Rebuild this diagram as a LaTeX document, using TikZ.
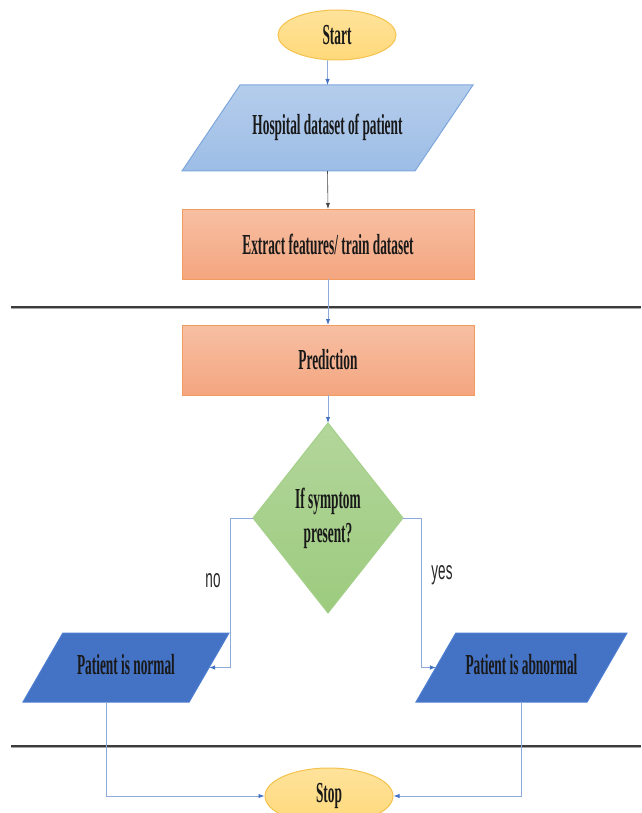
\documentclass[tikz,border=0pt]{standalone}
\usepackage{fontspec}
\newfontfamily\condserif[FakeStretch=0.46]{Liberation Serif}
\newfontfamily\condsans[FakeStretch=0.52]{Liberation Sans}
\usetikzlibrary{shapes.geometric,arrows.meta,calc}
\definecolor{termfill}{HTML}{FFD97A}
\definecolor{termtop}{HTML}{FFE39B}
\definecolor{termdraw}{HTML}{F5C24E}
\definecolor{iotop}{HTML}{B5CDEC}
\definecolor{iobot}{HTML}{9DBDE6}
\definecolor{iodraw}{HTML}{7EA7DB}
\definecolor{proctop}{HTML}{F7BFA3}
\definecolor{procbot}{HTML}{F4A680}
\definecolor{procdraw}{HTML}{F39A5E}
\definecolor{dectop}{HTML}{B3D69B}
\definecolor{decbot}{HTML}{9CCB7E}
\definecolor{decdraw}{HTML}{A5D08A}
\definecolor{outfill}{HTML}{4472C4}
\definecolor{outdraw}{HTML}{4F7FD2}
\definecolor{connblue}{HTML}{8EAADB}
\definecolor{tipblue}{HTML}{4472C4}
\definecolor{sepline}{HTML}{3C3C3C}
\tikzset{
  x=1pt, y=-1pt,
  lbl/.style={font=\condserif\bfseries\fontsize{29}{34}\selectfont, text=black!90},
  term/.style={ellipse, draw=termdraw, line width=1pt, top color=termtop, bottom color=termfill, minimum width=118pt, minimum height=50pt, inner sep=0pt, lbl},
  iobox/.style={trapezium, trapezium stretches body=true, draw=iodraw, line width=1pt, top color=iotop, bottom color=iobot, text height=20pt, text depth=7pt, inner xsep=0pt, inner ysep=29.5pt, outer sep=0pt, lbl},
  procbox/.style={rectangle, draw=procdraw, line width=1pt, top color=proctop, bottom color=procbot, minimum width=292pt, minimum height=70pt, inner sep=0pt, outer sep=0pt, lbl},
  decbox/.style={diamond, draw=decdraw, line width=1pt, top color=dectop, bottom color=decbot, minimum width=150pt, minimum height=190pt, inner sep=0pt, outer sep=0pt, align=center, lbl},
  outbox/.style={trapezium, trapezium stretches body=true, trapezium left angle=60, trapezium right angle=120, draw=outdraw, line width=1pt, fill=outfill, text height=20pt, text depth=7pt, inner xsep=0pt, inner ysep=21pt, outer sep=0pt, lbl},
  conn/.style={draw=connblue, line width=0.9pt, -{Latex[length=6pt,width=4.5pt,color=tipblue]}},
  connk/.style={draw=black!75, line width=0.6pt, -{Latex[length=6pt,width=4pt]}},
  sep/.style={draw=sepline, line width=2pt},
  sepshadow/.style={draw=black!35, line width=1.2pt},
  branch/.style={font=\condsans\fontsize{26}{28}\selectfont, text=black!85}
}
\begin{document}
\begin{tikzpicture}
\useasboundingbox (0,0) rectangle (641,813);
% separators
\draw[sepshadow] (11,308.4) -- (641,308.4);
\draw[sep] (11,306.6) -- (641,306.6);
\draw[sepshadow] (11,747.4) -- (641,747.4);
\draw[sep] (11,745.6) -- (641,745.6);
% nodes
\node[term] (start) at (337,35) {Start};
\node[iobox, trapezium left angle=56, trapezium right angle=124, minimum width=291pt] (hosp) at (327.5,128) {Hospital dataset of patient};
\node[procbox] (extract) at (328,244) {Extract features/ train dataset};
\node[procbox] (pred) at (328,360) {Prediction};
\node[decbox] (dec) at (328,518) {\raisebox{-3pt}{If symptom}\\[3pt]present?};
\node[outbox, minimum width=206pt] (normal) at (126,667.5) {Patient is normal};
\node[outbox, minimum width=211pt] (abnormal) at (521.5,667.5) {Patient is abnormal};
\node[term, minimum width=128pt, minimum height=56pt] (stop) at (329,796) {Stop};
% branch labels
\node[branch] (nolbl) at (213,581) {no};
\node[branch] (yeslbl) at (442,575) {yes};
% helper coordinates
\coordinate (nobend) at (230,518);
\coordinate (yesbend) at (421,518);
\coordinate (nbot) at ($(normal.bottom left corner)!0.5!(normal.bottom right corner)$);
% connectors
\draw[conn] (start.south -| hosp.center) -- (hosp.north);
\draw[connk] (hosp.south) -- (extract.north);
\draw[conn] (extract.south) -- (pred.north);
\draw[conn] (pred.south) -- (dec.north);
\draw[conn] (dec.west) -- (nobend) |- (normal.east);
\draw[conn] (dec.east) -- (yesbend) |- (abnormal.west);
\draw[conn] (nbot) |- (stop.west);
\draw[conn] (abnormal.south) |- (stop.east);
\end{tikzpicture}
\end{document}
